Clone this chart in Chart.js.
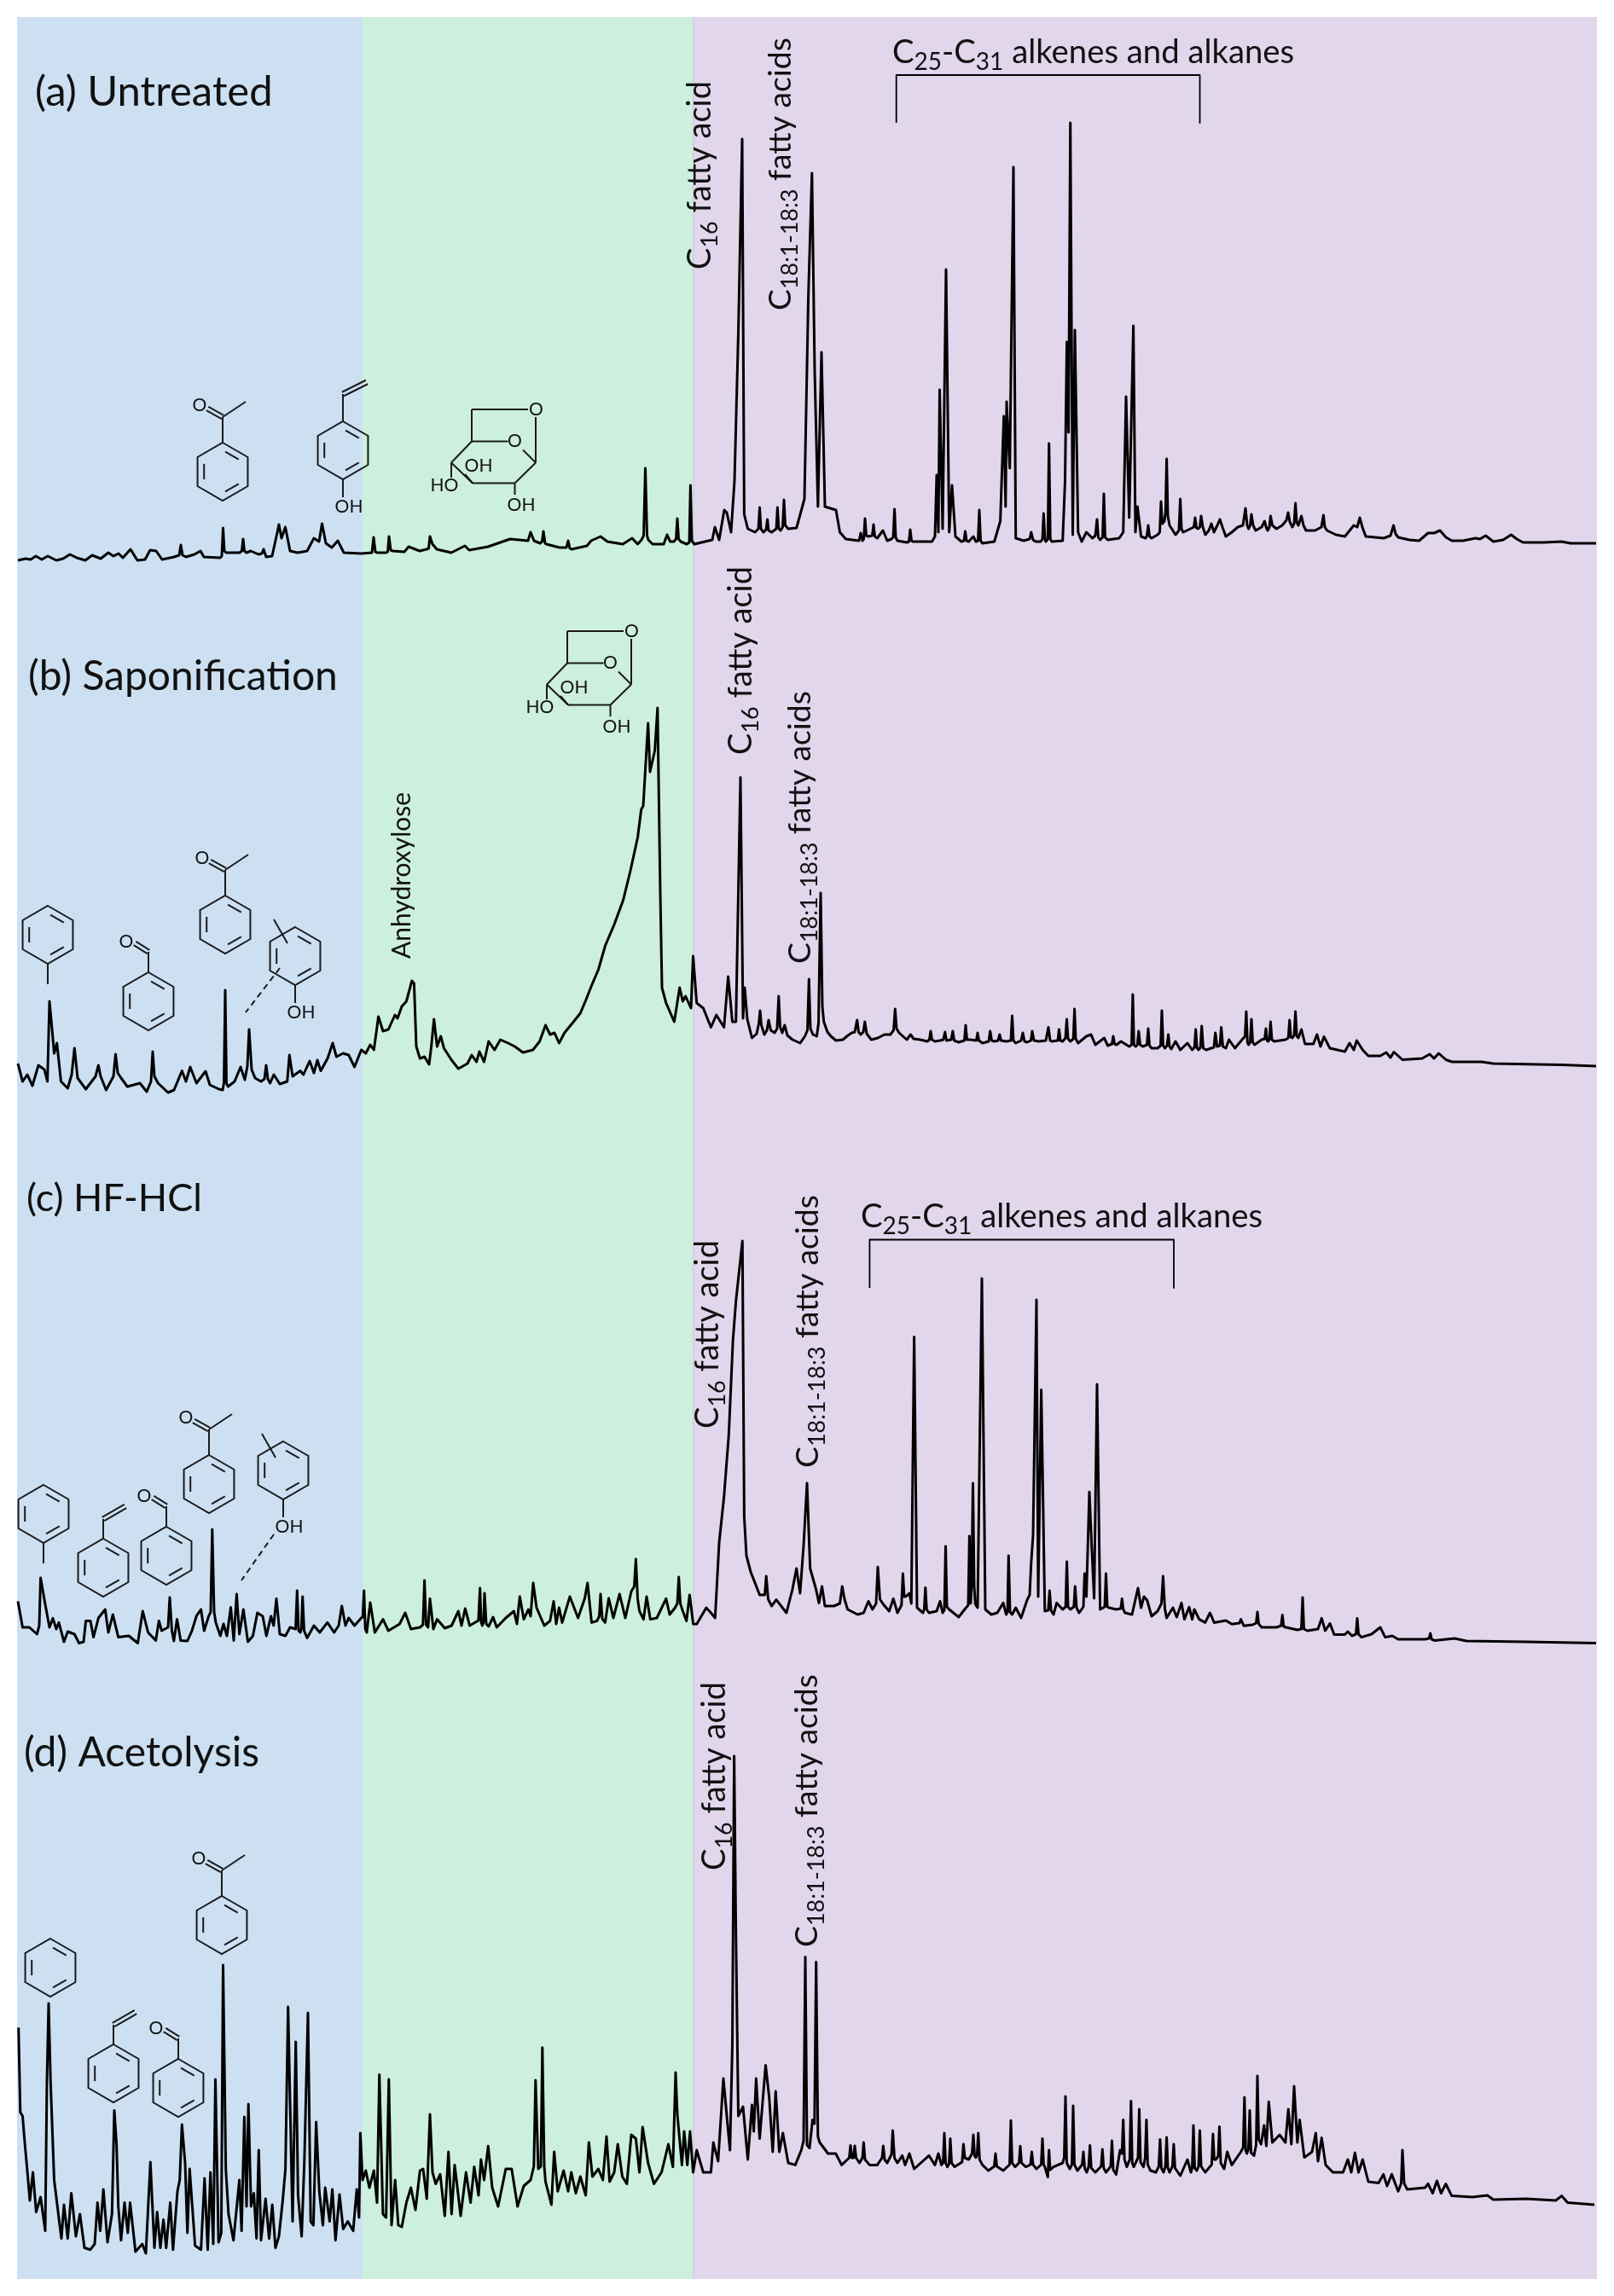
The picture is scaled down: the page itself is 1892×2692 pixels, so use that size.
<!DOCTYPE html>
<html>
<head>
<meta charset="utf-8">
<style>
  html, body { margin: 0; padding: 0; background: #ffffff; }
  canvas { display: block; }
</style>
<script src="https://cdn.jsdelivr.net/npm/chart.js@4"></script>
</head>
<body>
<canvas id="pyChart" width="1892" height="2692"></canvas>
<script>
// retention scale, arbitrary units; each pair is [retention, signal above the panel zero]
const traceA = [[21,3],[30,5],[36,4],[42,8],[49,4],[56,8],[66,3],[74,5],[82,10],[90,6],[100,3],[108,9],[118,5],[127,12],[133,8],[139,11],[144,6],[153,16],[161,3],[170,4],[176,15],[183,14],[190,4],[204,7],[210,9],[212,21],[214,9],[218,7],[228,10],[235,14],[239,7],[258,6],[260,8],[261.5,41],[263,14],[265,12],[281,12],[283.5,14],[285,28],[286.5,14],[289,12],[294,14],[303,10],[307,11],[309,16],[312,7],[319,8],[327,45],[330,29],[334.5,42],[340,14],[349,12],[360,14],[368,29],[374,25],[377.5,46],[382,23],[389,18],[396,26],[403,12],[423.5,11],[436,12],[438,30],[440,13],[442,12],[452.6,12],[454.5,13],[456,31],[458,15],[460.5,14],[474,13],[479,19],[492,14],[500,16],[502.5,17],[504,31],[507,22],[512,16],[529,12],[545,20],[550,15],[572,19],[598,28],[619,26],[622,36],[626,26],[633,23],[635.5,25],[637,37],[639,23],[640.5,22],[656,18],[664,18],[666,26],[668,17],[670,16],[688,20],[693,26],[704,31],[712,25],[730,22],[741,29],[747.5,22],[752,27],[754.5,32],[756.5,111],[758.5,32],[760,27],[765,22],[778,22],[782,33],[785.6,25],[790,25],[792.5,28],[794,52],[795.5,28],[798,25],[805,22],[808,24],[809.4,91],[811,26],[814,22],[835,27],[838,42],[843,27],[849,62],[852,59],[857,36],[861,96],[865.5,270],[870,497],[872.4,57],[876.6,40],[885,36],[889,40],[890.5,65],[892,40],[895,36],[898,39],[899.6,51],[901,38],[904.5,36],[910,40],[911.4,65],[913,40],[915,38],[917.5,42],[919,74],[920.5,44],[924,40],[933.7,41],[943,75],[947.6,313],[951.8,457],[955,226],[958.8,66],[963,247],[967,66],[980,62],[984.5,36],[991.5,28],[1007,26],[1009,35],[1011,26],[1012.5,28],[1014,52],[1015.5,32],[1018,31],[1022.5,32],[1024,45],[1025.5,31],[1028.4,29],[1035,38],[1040,26],[1045,28],[1047,30],[1048.6,63],[1050,30],[1052,26],[1063,24],[1065.5,25],[1067,39],[1068.5,26],[1070,25],[1092.5,25],[1096,31],[1098,103],[1100,36],[1101.5,203],[1105,40],[1109,344],[1112.7,36],[1116,91],[1120,31],[1127,25],[1130,26],[1131.5,37],[1133,26],[1135.6,25],[1141,31],[1144,25],[1146.5,26],[1148,62],[1149.5,26],[1151.7,23],[1165.6,25],[1172.6,49],[1176.7,172],[1178.8,66],[1180,189],[1183.7,111],[1188,464],[1190.7,29],[1200,26],[1207,28],[1208.8,36],[1211,27],[1214,25],[1220,25],[1222,28],[1223.4,58],[1225,27],[1226,25],[1228.3,28],[1229.7,140],[1231.2,28],[1233,25],[1245.7,26],[1248.5,96],[1250.6,259],[1252.6,153],[1254.7,516],[1257.5,33],[1260,273],[1263.8,36],[1268,25],[1273.5,36],[1280.5,29],[1284,32],[1286,51],[1287.5,30],[1289.6,27],[1292.5,30],[1294,81],[1295.5,30],[1298.6,27],[1312,29],[1316.7,36],[1320,195],[1323.7,53],[1328.6,278],[1331,36],[1333.4,66],[1337.6,31],[1343,29],[1344.5,32],[1346,44],[1347.5,31],[1350,29],[1357,33],[1359.5,36],[1361,72],[1362.5,46],[1365,49],[1366.3,60],[1367.6,122],[1369,55],[1371,44],[1378,33],[1382,38],[1383.6,75],[1385,40],[1387,36],[1395.4,40],[1399.5,42],[1401,53],[1402.5,41],[1404.5,40],[1406.5,42],[1408,55],[1410,42],[1413,33],[1417,38],[1420,46],[1423,36],[1427,44],[1430,51],[1433,42],[1437,31],[1444,36],[1451,42],[1457,44],[1460,64],[1462,44],[1463.6,40],[1465.5,44],[1467,57],[1469,44],[1472,38],[1479,42],[1482.4,49],[1484.5,41],[1486,38],[1488,42],[1489.4,55],[1491.5,44],[1496.4,40],[1503,44],[1508,50],[1510,59],[1512,48],[1515,42],[1517,46],[1518.6,70],[1520,48],[1522,44],[1525.6,55],[1528,44],[1531,38],[1541.6,38],[1549,42],[1551.4,56],[1553,42],[1555.6,38],[1566,33],[1576.5,31],[1587,44],[1591,42],[1594,53],[1597,42],[1601,31],[1612,30],[1622,29],[1630,32],[1633.6,44],[1636,34],[1639,30],[1652,27],[1663.5,26],[1674,35],[1681,35],[1688,38],[1695,30],[1702,26],[1715,26],[1729.6,29],[1735,28],[1741.5,32],[1750.6,25],[1762,27],[1771.5,33],[1778,28],[1785.4,24],[1810,24],[1830.6,25],[1841,23],[1871,23]];

const traceB = [[21,23],[26.5,2],[32,10],[38,-3],[45,21],[52,16],[55.6,2],[58,96],[61.4,59],[63.5,35],[66.7,47],[71.5,2],[79.4,-6],[84,10],[87.3,41],[91,6],[100.6,-7],[112,8],[115.4,21],[118,8],[124.4,-8],[133,8],[135.5,34],[138,12],[142,6],[149.3,-4],[164,0],[172,-10],[177,2],[179,37],[181,8],[185.3,0],[197,-11],[204,-8],[213.3,14.5],[218,2],[223,19],[230.3,0],[241,14],[246,-2],[256.7,-7],[261,-8],[262.5,0],[264,109],[265.5,0],[267.3,-4],[275,2],[282,19],[287,4],[290,20],[292,63],[295,16],[299,6],[306,2],[310,5],[312,21],[314,5],[316.6,0],[321,10],[328,-1],[336.7,2],[339.3,33],[343,8],[352,14.5],[355.7,10],[363,26],[368,12],[372,27],[376,14.5],[384,29],[390,47],[394.4,31],[402.3,35],[408.7,33],[415.6,19],[423.5,39],[428.8,35],[434,45],[438.3,39],[443.6,78],[449,61],[455.3,63],[463,80],[466,76],[471,90],[476.4,96],[482.8,120],[485.4,117],[488,43],[492.3,29],[497.6,31],[503,22],[505.6,43],[508.7,75],[512.4,43],[516.7,55],[520.4,41],[529.4,27],[537.3,17],[548,23],[553,33],[558.5,25],[562,37],[567.5,25],[572.8,49],[579.7,39],[586.5,51],[595.6,47],[603.5,43],[613,36],[624.7,39],[632.6,49],[639.5,68],[644.8,57],[650,59],[655.4,47],[661.7,59],[672.3,72],[680.3,82],[687,98],[693.5,114.5],[701.4,133],[709.4,161],[720,186],[730.5,214.5],[738.5,247],[747.5,288],[751.7,321],[754,325],[759.7,422],[762,365],[767.6,390],[770.8,440],[774,223],[776,112],[780.8,94],[790.4,72],[796.7,112],[800.4,96],[803.6,102],[810,88],[812.5,149],[816.7,94],[824.4,88],[833.4,65.5],[839.7,80],[848.7,65.5],[853.6,125],[858.5,72],[862.7,72],[868,358.6],[871,76],[873,112],[876,75],[881.5,53],[887,58],[889.5,70],[891,85],[892.5,68],[896,57],[899,62],[901,74],[903.5,62],[908,59],[911,64],[912.8,102],[914.5,66],[917,59],[919.8,68],[923,56],[929,51],[938,47],[943.5,55],[946.5,62],[948.3,122],[950,64],[953,57],[957.4,55],[959.5,70],[962,223],[964,90],[965.7,72],[970,60],[974,55],[980,50],[988,51],[994,56],[998.5,59],[1002,60],[1004.7,74],[1006.5,60],[1009,57],[1012,60],[1013.8,72],[1016,58],[1021.4,51],[1029,53],[1036.8,57],[1043.7,57],[1047.5,62],[1049.3,87],[1051,64],[1054,59],[1063,51],[1067.4,57],[1071,52],[1078.6,51],[1087,49],[1089.5,51],[1091,61],[1092.5,51],[1096,49],[1102,50],[1105.8,51],[1107.8,60],[1109.5,50],[1115,51],[1116.9,61],[1118.5,50],[1123.8,48],[1130.5,50],[1132,68],[1133.5,51],[1137.7,51],[1144.5,50],[1146,59],[1147.5,50],[1151.7,47],[1159,49],[1160.7,61],[1162.5,50],[1165.6,49],[1170,50],[1171.9,57],[1173.5,50],[1179.5,49],[1185,50],[1186.5,79],[1188,50],[1190.7,47],[1197,50],[1199,59],[1201,49],[1204,48],[1208.5,50],[1210,61],[1212,50],[1217.8,49],[1226,50],[1229,65.5],[1231,50],[1233,49],[1240,50],[1241.5,63],[1243,50],[1245.7,49],[1249,53],[1250.5,75],[1252,52],[1254.7,49],[1258.2,52],[1259.6,87],[1261,52],[1263.8,47],[1273.5,55],[1279,57],[1284,45],[1294.4,53],[1298.6,44],[1303.5,46],[1305,55],[1306.5,46],[1309,45],[1314,49],[1323.7,43],[1326.5,45],[1327.9,104],[1329.3,45],[1331.3,43],[1333.3,45],[1334.8,61],[1336.5,45],[1339.7,43],[1344.5,45],[1346,64],[1347.5,44],[1350,41],[1357,41],[1360.5,44],[1362,85],[1363.5,44],[1365.5,41],[1368,44],[1369.6,57],[1371,43],[1373,40],[1378,49],[1383.6,39],[1392,47],[1397.5,39],[1400.2,42],[1401.7,63],[1403.2,41],[1405,39],[1407.2,42],[1408.7,67],[1410.5,41],[1414,39],[1423,42],[1424.7,59],[1426.7,43],[1430,44],[1431.6,65.5],[1433.5,43],[1437,41],[1440.7,51],[1447.6,41],[1456,51],[1459.5,55],[1460.9,84],[1462.3,48],[1463.7,45],[1465.5,48],[1467,75],[1468.5,48],[1470.6,45],[1479,51],[1482.5,52],[1484,64],[1485.3,50],[1486.6,49],[1488,51],[1489.4,72],[1491,51],[1493.6,49],[1506.8,51],[1510.2,53],[1511.7,74],[1513.2,54],[1515,53],[1517,56],[1518.6,84],[1520.2,55],[1522,53],[1525.6,63],[1529.8,46],[1539.6,46],[1543.8,57],[1548,43],[1552,54.5],[1559,41],[1576.5,37],[1582,47],[1587,39],[1590.4,50],[1597.4,39],[1604,32],[1618,32],[1625,36],[1630,30],[1634,36.5],[1644,27.5],[1667,29],[1676,34],[1681,29],[1686.5,35],[1695,27.5],[1702,25],[1736.6,25],[1750.6,23],[1830.6,21.4],[1871,20]];

const traceC = [[21,42.5],[26.5,12],[34.4,12],[43.4,4],[46,14],[47.6,70],[53,39],[58,12],[62,22.6],[66,10],[69,17.6],[75,-5],[79.4,7],[87.3,4],[92.6,-6.5],[98,-5],[100.6,19.5],[106,19.5],[109.6,0.4],[115.4,23],[123.3,33],[127,6],[132.3,27],[138.7,0.4],[151,2],[161.5,-6.5],[167.3,31],[173.6,6],[182.6,-3.4],[186.3,19.5],[189.5,8],[197,12],[199,47],[201.5,8],[203.8,-4],[207.5,21.4],[211.8,-3.4],[219.7,-4],[225,8],[230.3,25.3],[235.6,33],[239.3,8],[244.6,25],[247,30],[248.8,126.7],[251,30],[253,17.6],[258.3,2],[262,16],[266,2],[270.5,35.6],[274,-3.4],[277.4,51],[280.6,4],[285.3,33],[290.6,-5],[296.5,2],[301.7,29],[308,25],[312.3,2],[317.6,25],[320.8,14],[324,45.6],[328,4],[334.6,2],[340,12],[346.5,10],[348.3,55],[350,8],[352,6],[353.3,10],[354.7,48],[356.5,8],[360,-0.4],[368,14],[374.8,6],[383.8,17.6],[391.7,6],[397,14],[400.7,37],[405,14],[408.7,23],[415.6,14],[423.5,23],[425.2,24],[426.7,55],[428.2,10],[429.9,6],[434,41],[439.4,6],[449,21.4],[455.3,8],[468.5,16],[475,29],[481.7,10],[492.3,12],[495.8,15],[497.6,67],[499.5,15],[501.9,12],[504,45.6],[508,10],[512.4,21.4],[521.4,11],[529.4,14],[537.3,31],[541,14],[545.3,34],[550.6,14],[560.8,20],[562.7,58],[564,18],[565.4,14],[566.8,18],[568,52],[570,16],[572.8,13],[578,24],[582.3,12],[592.9,23],[602.4,31],[606,16],[609.3,48],[614,21.4],[619.4,33],[622,25],[625,64],[629,35],[638,14],[644.8,19.5],[649,42.5],[652,16],[655.4,35],[659,17.6],[668,48],[677.6,23],[685.5,46],[688.7,64],[693.5,17.6],[699.8,19.5],[702.5,25],[704,51],[706,22],[709.4,17.6],[713.6,46],[719,23],[726.3,51],[733,23],[740,54],[743.5,60],[745.4,92],[747.5,45],[749.6,31],[754.4,21.4],[758,48],[762.3,21.4],[770,23],[780.8,45.6],[785,27],[791.4,35],[794,40],[795.7,71],[797.5,40],[800.4,31],[804.7,19.5],[808.4,50],[812.6,16],[816.7,15.7],[827.9,35],[833.4,29],[838.3,23],[843,111],[848.7,165],[854.3,237.7],[859.2,348.6],[862.7,394.6],[870.3,465],[872.4,142],[875,96],[880,77],[890.5,50],[896.5,50],[898.2,72],[900.5,45],[904.5,37],[910,44.4],[921.9,29],[928.8,56],[933.7,81],[937.9,52],[942,107.5],[946,181],[949.7,81],[956.7,56],[960,40.6],[963.6,60],[967,37],[977.6,37],[984.5,40],[987.3,60],[990,45],[993.6,33],[1005.4,27],[1012.4,29],[1018,42.5],[1022.8,33],[1027,40],[1029,82.7],[1031.5,45],[1035.4,39],[1042.3,31],[1047.2,45.6],[1052,29],[1056.8,38],[1058.4,75],[1060,48],[1061.8,48],[1066,52],[1068.3,40],[1071.6,352.5],[1075,35],[1082,29],[1083.4,33],[1084.8,58.6],[1086.3,33],[1089,29],[1098,31],[1102,42.5],[1105,29],[1107,32],[1108.5,107],[1110,36],[1112.7,33],[1123.8,24],[1130.8,33],[1135,38],[1136.4,119],[1137.9,40],[1139,60],[1140.5,181],[1142,60],[1143.3,39],[1146,35],[1151,421],[1155,33],[1162,27],[1169,29],[1176,40.6],[1179.5,27],[1181,30],[1182.3,96],[1184,30],[1186.5,27],[1190.7,35],[1197,23],[1204,44],[1207,50],[1208.8,88],[1211,120],[1215,396],[1217,48],[1220.6,290.5],[1224.8,31],[1228.8,32],[1230.4,55],[1232,32],[1235,27],[1238.7,40.6],[1245.7,33],[1249.2,36],[1250.6,89],[1252,36],[1254.7,33],[1258.8,36],[1260.3,60],[1262,35],[1265,29],[1270,36],[1271.4,75],[1273.5,48],[1277,170.7],[1279.8,105.6],[1282.6,46],[1286,297],[1289.6,33],[1295,36],[1296.5,75],[1298,36],[1300,35],[1308.4,33],[1313.8,34],[1315.3,45.6],[1316.8,33],[1318.8,29],[1327,27],[1334,58],[1337.6,35],[1341,48],[1344.6,44],[1350,25],[1357,31],[1361.5,40],[1363.4,72],[1365.5,34],[1367.5,23],[1375,35],[1379.4,24],[1385,40.6],[1388.4,21.4],[1394,35.6],[1397.5,21.4],[1400,33],[1405.8,21.4],[1412.8,17.6],[1418.4,29],[1423.3,17.6],[1437,20],[1444,15.7],[1453,17],[1454.6,21.4],[1458,13.8],[1468.5,15],[1472.5,17],[1474,30],[1475.5,16],[1479,12],[1496.4,12],[1501.8,14],[1503.3,26.4],[1504.8,13],[1507.5,12],[1520.8,9],[1525.5,10],[1527,47],[1528.5,10],[1532.6,8],[1545,10],[1549.3,22.6],[1553.5,8],[1559,16.5],[1564,3.5],[1576.5,3.5],[1580,7],[1584.8,2],[1589.5,4],[1591,22.6],[1592.5,4],[1596,0.4],[1607.8,4],[1618,12],[1623.8,0.4],[1632,2],[1639,-2],[1670.5,-2],[1675.2,-1],[1676.7,5],[1678.2,-2],[1681.6,-3.4],[1705,-1],[1719,-4],[1788.9,-5],[1871,-6.5]];

const traceD = [[21.7,202.7],[23.8,103.4],[26.5,99],[29,68],[31.8,37],[35,0],[38.6,33],[42.4,-13.6],[47.6,4],[53,-35.6],[55,138.7],[57,231],[59.3,138.7],[63.5,24],[67.8,-11],[72,-44.5],[75,-5],[79.4,-44.5],[83.6,8.5],[89,-42],[93.7,-16],[99,-55.5],[105.9,-57.7],[111,-51],[114.3,-2.5],[117.5,-35.6],[121.2,13],[126,-49],[131.3,-15.8],[134,105.6],[136.6,66],[138.7,-7],[141.9,-46.7],[146,-2.5],[149.8,-38],[152.5,-2.5],[158.8,-60],[166.8,-51],[171,-62],[176.3,45],[181,-55.5],[184.2,-13.6],[188,-55.5],[191.6,-22.4],[194.8,-55.5],[199.6,-2.5],[202.8,-57.7],[208,10.7],[210.7,24],[213.3,89],[217,44],[219.7,-38],[222.3,37],[228.7,-53],[235.6,-57.7],[239.8,26],[243.5,-57.7],[246.7,33],[250,-51],[252.5,142],[256.2,-49],[259.4,-38],[261.5,276],[264.7,37],[267.9,-16],[273.7,-46.7],[280.6,24],[283.2,-35.6],[286.4,98],[289,-7],[291.2,113],[294.3,-7],[297.5,8.5],[300.7,-44.5],[303.3,59],[306,-46.7],[311.3,2],[315.5,-44.5],[319.2,-5],[322.9,-55.5],[327,-42],[331.4,0],[334.6,37],[337.7,227],[339.9,121],[343,-24.6],[346.7,186],[349.4,6.3],[353.6,-42],[356.8,46],[361,220],[364.2,-24.6],[367.4,-29],[370.6,92],[374.3,10.7],[378.5,-29],[381.2,15],[386.4,-24.6],[389.6,13],[393.3,-46.7],[398,7],[402.3,-33.4],[407.6,-24.6],[414,-35.6],[418.2,13],[420.9,-20],[422.4,79],[425,24],[428.8,35],[433,15],[438.3,35],[442,-2.5],[444.7,147.5],[448.9,-16],[452.6,-20],[455.8,142],[459,-29],[463.2,24],[466.9,-29],[471,-31],[476.4,-2.5],[481.7,15],[487,-11],[492.3,35],[496,37],[500.3,2],[504,101],[507,33],[510.8,19.5],[516,30.6],[521.4,-18],[525.7,57],[529.4,-16],[533,41.6],[540,-18],[546.3,33],[551.6,-2.5],[555.9,39.4],[561,6],[563.8,48],[567.5,24],[572.3,63.7],[577,15],[583.9,-7],[592.9,37],[599.8,37],[606.7,-7],[614,17],[622,24],[625.8,40],[627.8,141],[631,37],[634,40],[635.8,179.3],[638,40],[639.5,22],[646.4,-5],[649.6,57],[653.8,10.7],[660.7,35],[666,10.7],[669.7,33],[675,8.5],[680.3,28],[686.6,6],[690.3,68],[694.5,28],[701.4,37],[706.7,24],[711,75],[714.6,22],[720,33],[724.2,66],[729.5,28],[734.8,19.5],[740,77],[745.4,72.5],[749.6,33],[753.3,86],[759.7,44],[766.6,19.5],[775.5,33],[783.5,66],[788.8,39.4],[792,150],[794,101],[799.4,41.6],[802,81],[805.7,41.6],[808.9,81],[812.5,33],[816.7,59],[824.4,33],[833.4,33],[836.2,68],[841.8,46],[848,143],[850.8,112],[855.7,59],[858.5,183],[860.6,521],[862.7,310],[865.5,99],[871,110],[876.6,48],[881.5,112],[883.6,81],[886.4,143],[890.5,72.5],[897.5,158.6],[901.7,121],[905.8,57],[909.3,128],[913.5,57],[917.7,79],[924,44],[932.3,41.6],[939.3,59],[942,70],[944,285.6],[946,65],[949,61.5],[952.5,94.6],[954.8,90],[956.7,279.5],[958.8,75],[960.9,68],[970.6,55],[979.7,55],[986.6,41.6],[995.5,50],[997,64.5],[998.5,50],[1000.5,50],[1002,64],[1003.5,50],[1007.5,44],[1011,50],[1012.4,68],[1014,48],[1019.4,41.6],[1028.4,41.6],[1034,50],[1035.4,64],[1037,48],[1040,44],[1045,54],[1046.5,82],[1048.5,50],[1052,44],[1057.7,52.6],[1061,41.6],[1066,55],[1071.6,37],[1089,52.6],[1096,41.6],[1100,55],[1103.6,41.6],[1105.5,44],[1107,79],[1108.5,44],[1110.6,39.4],[1112.5,43],[1114,72.5],[1115.5,44],[1119,39.4],[1127.8,45],[1129.4,66],[1131,50],[1135.6,48],[1139.5,55],[1141,77],[1142.5,52],[1144,50.4],[1145.4,54],[1146.8,79],[1148.3,48],[1151.7,41.6],[1158.6,35],[1165.5,40],[1167,55],[1168.5,40],[1176,35],[1183.5,42],[1185,93.7],[1186.5,44],[1190,39.4],[1194.5,44],[1196,63.7],[1197.5,44],[1202.5,39.4],[1208,42],[1209.5,57],[1211,42],[1215,37],[1220.5,42],[1222,72.5],[1223.4,42],[1224.8,39.4],[1228.3,27.5],[1229.7,59],[1231,36],[1235,39.4],[1245.7,44],[1247.5,50],[1249,122],[1250.5,44],[1254,37],[1256.5,42],[1258,111],[1259.5,42],[1263,35],[1268.5,42],[1270,57],[1271.5,38],[1274,33],[1276.2,40],[1277.7,64.5],[1279.2,38],[1284,33],[1290.8,40],[1292.3,60],[1293.8,38],[1296.5,33],[1302,40],[1303.5,70],[1305,36],[1308.4,30.6],[1313,59],[1315.2,55],[1316.7,94.6],[1318.2,48],[1320.9,39.4],[1324.3,48],[1325.8,116.6],[1327.3,44],[1329,39.4],[1334,50],[1335.5,107],[1337,45],[1340.4,39.4],[1342.4,50],[1343.9,94.6],[1345.4,42],[1348.7,35],[1355,33],[1358.4,40],[1359.9,71.6],[1361.4,38],[1364,33],[1366.1,40],[1367.6,74],[1369,38],[1371,33],[1374.4,40],[1375.9,66],[1377.4,38],[1383.6,29],[1392,48],[1396,33],[1397.5,38],[1399,88],[1400.5,38],[1403,35],[1405,40],[1406.5,82],[1408,40],[1412.8,33],[1420.4,42],[1421.9,78],[1423.4,48],[1425.4,48],[1428,52],[1429.5,86.6],[1431,44],[1435,37],[1438.6,57],[1444,41.6],[1454.6,57],[1457.3,62],[1458.8,121],[1460.3,58],[1461.6,55],[1463.5,60],[1465,105.6],[1466.5,56],[1470,52.6],[1472.5,65],[1474,146],[1475.5,72],[1478.3,66],[1481.8,88],[1484.5,64],[1487.3,115.7],[1491.5,68],[1500,77],[1506.8,68],[1510.3,107],[1513.8,66],[1517,134],[1520.8,68],[1523.5,94.6],[1529,50.4],[1538,57],[1542.4,79],[1545,46],[1549.3,73.4],[1554,41.6],[1562.5,33],[1574.4,33],[1580,48],[1584,33],[1588.3,56],[1592.5,33],[1597.4,48],[1604,22],[1616,20.4],[1621.7,30.6],[1626,17],[1631.5,30.6],[1639,10.7],[1642.5,20],[1644,59],[1646,20],[1649.6,13],[1670.5,15],[1674,19.5],[1679.5,8.5],[1684.4,23],[1689.3,8.5],[1694.8,19.5],[1701.8,5.4],[1726,4],[1743.6,6],[1750.6,1],[1788.9,2],[1823.7,0],[1830.6,5.4],[1837.6,-2.5],[1869,-5]];

// retention windows of the three shaded zones
const zoneEdges = [20, 425, 813, 1872];
const zoneColors = ['#cce0f2', '#cdefdd', '#e2d6ec'];

// brackets over the alkene/alkane region
const bracketA = [[1050.7,516],[1050.7,572],[1406.5,572],[1406.5,516]];
const bracketC = [[1019.4,410],[1019.4,466.5],[1376,466.5],[1376,410]];

const panelTitles = ['(a) Untreated', '(b) Saponification', '(c) HF-HCl', '(d) Acetolysis'];

const FONT = 'Lato';
const LINE = '#1a1a1a';

function line(ctx, x1, y1, x2, y2) {
  ctx.beginPath();
  ctx.moveTo(x1, y1);
  ctx.lineTo(x2, y2);
  ctx.stroke();
}

function atom(ctx, label, x, y) {
  ctx.font = '21px ' + FONT;
  ctx.textAlign = 'center';
  ctx.textBaseline = 'middle';
  ctx.fillText(label, x, y);
}

function doubleBond(ctx, x1, y1, x2, y2) {
  const dx = x2 - x1, dy = y2 - y1;
  const len = Math.hypot(dx, dy);
  const nx = -dy / len * 2.5, ny = dx / len * 2.5;
  line(ctx, x1 + nx, y1 + ny, x2 + nx, y2 + ny);
  line(ctx, x1 - nx, y1 - ny, x2 - nx, y2 - ny);
}

function ring(ctx, cx, cy) {
  const r = 34;
  const pts = [];
  for (let i = 0; i < 6; i++) {
    const a = (-90 + i * 60) * Math.PI / 180;
    pts.push([cx + r * Math.cos(a), cy + r * Math.sin(a)]);
  }
  ctx.beginPath();
  pts.forEach((p, i) => (i ? ctx.lineTo(p[0], p[1]) : ctx.moveTo(p[0], p[1])));
  ctx.closePath();
  ctx.stroke();
  [[0, 1], [2, 3], [4, 5]].forEach(([a, b]) => {
    const ax = cx + (pts[a][0] - cx) * 0.74, ay = cy + (pts[a][1] - cy) * 0.74;
    const bx = cx + (pts[b][0] - cx) * 0.74, by = cy + (pts[b][1] - cy) * 0.74;
    line(ctx, ax + (bx - ax) * 0.14, ay + (by - ay) * 0.14, bx - (bx - ax) * 0.14, by - (by - ay) * 0.14);
  });
}

function acetophenone(ctx, cx, cy) {
  ring(ctx, cx, cy);
  line(ctx, cx, cy - 34, cx, cy - 64);
  line(ctx, cx, cy - 64, cx + 27, cy - 82);
  doubleBond(ctx, cx, cy - 64, cx - 18, cy - 74);
  atom(ctx, 'O', cx - 27, cy - 78);
}

function benzaldehyde(ctx, cx, cy) {
  ring(ctx, cx, cy);
  line(ctx, cx, cy - 34, cx, cy - 58);
  doubleBond(ctx, cx, cy - 58, cx - 16, cy - 68);
  atom(ctx, 'O', cx - 26, cy - 70);
}

function styrene(ctx, cx, cy) {
  ring(ctx, cx, cy);
  line(ctx, cx, cy - 34, cx, cy - 57);
  doubleBond(ctx, cx, cy - 57, cx + 26, cy - 72);
}

function toluene(ctx, cx, cy, stem) {
  ring(ctx, cx, cy);
  if (stem) line(ctx, cx, cy + 34, cx, cy + stem);
}

function phenol(ctx, cx, cy, methyl) {
  ring(ctx, cx, cy);
  line(ctx, cx, cy + 34, cx, cy + 55);
  atom(ctx, 'OH', cx + 7, cy + 66);
  if (methyl) line(ctx, cx - 25, cy - 43, cx - 9, cy - 15);
}

function levoglucosan(ctx, x, y) {
  const seg = [
    [0, 0, 66, 0], [0, 0, 0, 37.5], [0, 37.5, 42.5, 37.5], [60, 47.5, 75, 62.5], [75, 62.5, 75, 9],
    [75, 62.5, 50.5, 86.5], [50.5, 86.5, 1, 86.5], [1, 86.5, -24, 62.5], [-24, 62.5, 0, 37.5],
    [-24, 62.5, -24, 80], [1, 86.5, -8, 76], [50.5, 86.5, 50.5, 100]
  ];
  seg.forEach((s) => line(ctx, x + s[0], y + s[1], x + s[2], y + s[3]));
  atom(ctx, 'O', x + 50.5, y + 37.5);
  atom(ctx, 'O', x + 75.5, y + 0.5);
  atom(ctx, 'HO', x - 32, y + 89);
  atom(ctx, 'OH', x + 8, y + 66);
  atom(ctx, 'OH', x + 58, y + 112);
}

function dashed(ctx, x1, y1, x2, y2) {
  ctx.setLineDash([7, 5]);
  line(ctx, x1, y1, x2, y2);
  ctx.setLineDash([]);
}

// text made of runs; a run flagged true is a subscript
function label(ctx, runs, x, y, size, rotated) {
  ctx.save();
  ctx.translate(x, y);
  if (rotated) ctx.rotate(-Math.PI / 2);
  ctx.textAlign = 'left';
  ctx.textBaseline = 'alphabetic';
  let pos = 0;
  runs.forEach(([text, sub]) => {
    ctx.font = (sub ? Math.round(size * 0.72) : size) + 'px ' + FONT;
    ctx.fillText(text, pos, sub ? size * 0.22 : 0);
    pos += ctx.measureText(text).width;
  });
  ctx.restore();
}

const zonePlugin = {
  id: 'zones',
  beforeDatasetsDraw(chart) {
    const { ctx, scales: { x } } = chart;
    zoneColors.forEach((color, i) => {
      const left = x.getPixelForValue(zoneEdges[i]);
      const right = x.getPixelForValue(zoneEdges[i + 1]);
      ctx.fillStyle = color;
      ctx.fillRect(left, 20, right - left, 2652);
    });
    // faint edge between the second and third zones
    ctx.fillStyle = '#c9cfd6';
    ctx.fillRect(x.getPixelForValue(zoneEdges[2]) - 1, 20, 1.5, 2652);
  }
};

const notesPlugin = {
  id: 'notes',
  afterDatasetsDraw(chart) {
    const { ctx } = chart;
    ctx.save();
    ctx.fillStyle = '#111111';
    ctx.strokeStyle = LINE;
    ctx.lineWidth = 2;

    label(ctx, [[panelTitles[0]]], 41, 124, 49);
    label(ctx, [[panelTitles[1]]], 33, 809, 48);
    label(ctx, [[panelTitles[2]]], 31, 1420, 45);
    label(ctx, [[panelTitles[3]]], 28, 2071, 48);

    const c16 = [['C'], ['16', true], [' fatty acid']];
    const c18 = [['C'], ['18:1-18:3', true], [' fatty acids']];
    const alk = [['C'], ['25', true], ['-C'], ['31', true], [' alkenes and alkanes']];
    label(ctx, c16, 833, 316, 38, true);
    label(ctx, c18, 927, 364, 37.3, true);
    label(ctx, alk, 1046, 74, 38.3);
    label(ctx, c16, 881, 885, 38, true);
    label(ctx, c18, 950, 1130, 37.3, true);
    label(ctx, [['Anhydroxylose']], 481, 1124, 30, true);
    label(ctx, c16, 842, 1675, 38, true);
    label(ctx, c18, 959, 1721, 37.3, true);
    label(ctx, alk, 1009, 1439, 38.3);
    label(ctx, c16, 850, 2193, 38, true);
    label(ctx, c18, 958, 2283, 37.3, true);

    // panel a
    acetophenone(ctx, 261, 553);
    phenol(ctx, 402, 528, false);
    line(ctx, 402, 494, 402, 462);
    doubleBond(ctx, 402, 462, 430, 448);
    levoglucosan(ctx, 553, 480);
    // panel b
    toluene(ctx, 56, 1096, 58);
    benzaldehyde(ctx, 174, 1174);
    acetophenone(ctx, 264, 1084);
    phenol(ctx, 346, 1121, true);
    dashed(ctx, 328, 1135, 288, 1187);
    levoglucosan(ctx, 665, 740);
    // panel c
    toluene(ctx, 51, 1775, 58);
    styrene(ctx, 121, 1838);
    benzaldehyde(ctx, 195, 1824);
    acetophenone(ctx, 245, 1740);
    phenol(ctx, 332, 1724, true);
    dashed(ctx, 321, 1799, 283, 1853);
    // panel d
    toluene(ctx, 59, 2307, 0);
    styrene(ctx, 133, 2431);
    benzaldehyde(ctx, 209, 2448);
    acetophenone(ctx, 260, 2257);
    ctx.restore();
  }
};

function toPoints(trace) {
  return trace.map(([x, y]) => ({ x, y }));
}

function traceSet(trace, axis, width) {
  return {
    data: toPoints(trace),
    yAxisID: axis,
    showLine: true,
    borderColor: '#000000',
    borderWidth: width,
    borderJoinStyle: 'round',
    pointRadius: 0,
    tension: 0,
    fill: false,
    clip: false
  };
}

// each panel has its own axis so that its zero sits on its own line of the page
function panelAxis(zero) {
  return { type: 'linear', display: false, min: zero - 2692, max: zero };
}

new Chart(document.getElementById('pyChart'), {
  type: 'scatter',
  data: {
    datasets: [
      traceSet(traceA, 'yA', 3),
      traceSet(traceB, 'yB', 3),
      traceSet(traceC, 'yC', 3),
      traceSet(traceD, 'yD', 3),
      traceSet(bracketA, 'yA', 1.8),
      traceSet(bracketC, 'yC', 1.8)
    ]
  },
  options: {
    responsive: false,
    animation: false,
    devicePixelRatio: 1,
    layout: { padding: 0 },
    plugins: {
      legend: { display: false },
      tooltip: { enabled: false },
      title: { display: false }
    },
    scales: {
      x: { type: 'linear', display: false, min: 0, max: 1892 },
      yA: panelAxis(660),
      yB: panelAxis(1270),
      yC: panelAxis(1920),
      yD: panelAxis(2580)
    }
  },
  plugins: [zonePlugin, notesPlugin]
});
</script>
</body>
</html>
